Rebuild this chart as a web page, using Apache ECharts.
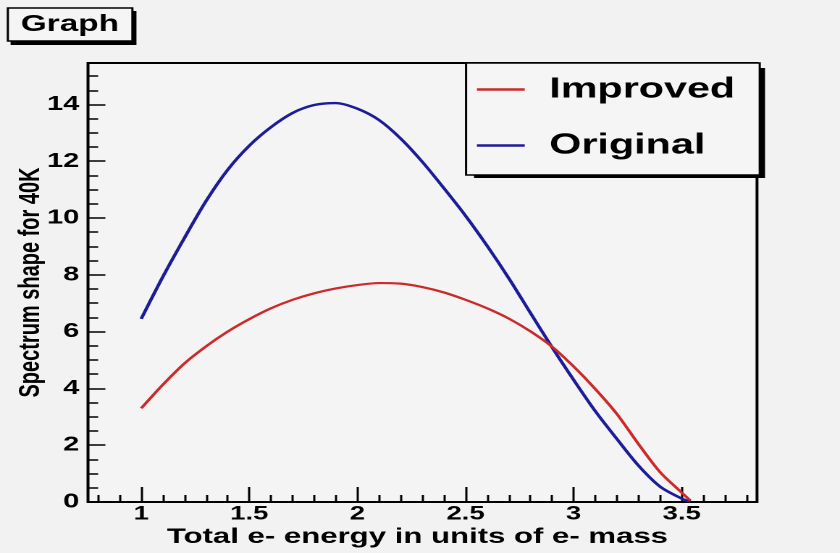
<!DOCTYPE html>
<html><head><meta charset="utf-8">
<script src="https://cdn.jsdelivr.net/npm/echarts@6/dist/echarts.min.js"></script>
<style>
html,body{margin:0;padding:0;background:#f2f2f2;overflow:hidden;}
#wrap{width:840px;height:553px;overflow:hidden;}
#chart{width:580px;height:553px;transform:scaleX(1.448276);transform-origin:0 0;}
</style></head><body><div id="wrap"><div id="chart"></div></div>
<script>
// Total e- energy (units of e- mass)
const energy   = [1.0, 1.1, 1.2, 1.3, 1.4, 1.5, 1.6, 1.7, 1.8, 1.9, 2.0, 2.1, 2.2, 2.3, 2.4, 2.5, 2.6, 2.7, 2.8, 2.9, 3.0, 3.1, 3.2, 3.3, 3.4, 3.5, 3.54];
const improved = [3.3, 4.13, 4.88, 5.48, 6.0, 6.44, 6.82, 7.12, 7.35, 7.52, 7.64, 7.71, 7.69, 7.57, 7.38, 7.12, 6.82, 6.46, 6.01, 5.47, 4.77, 3.98, 3.1, 2.04, 1.05, 0.33, 0.05];
const original = [6.45, 7.93, 9.3, 10.6, 11.7, 12.55, 13.2, 13.7, 13.98, 14.05, 13.85, 13.45, 12.8, 11.98, 11.05, 10.08, 9.02, 7.88, 6.66, 5.45, 4.3, 3.2, 2.22, 1.28, 0.54, 0.12, 0.01];
const seriesNames = ['Improved', 'Original'];
const xTickLabels = [1, 1.5, 2, 2.5, 3, 3.5];
const yTickLabels = [0, 2, 4, 6, 8, 10, 12, 14];

const X_MIN = 0.754, X_MAX = 3.848, Y_MIN = 0, Y_MAX = 15.46;
const FONT = "'Liberation Sans', Arial, sans-serif";

const xMinor = [];
for (let k = 8; k <= 38; k++) { const v = k / 10; if (xTickLabels.indexOf(v) < 0) xMinor.push(v); }
const yMinor = [];
for (let k = 1; k <= 30; k++) { const v = k / 2; if (yTickLabels.indexOf(v) < 0) yMinor.push(v); }

const chart = echarts.init(document.getElementById('chart'), null, {renderer: 'canvas', devicePixelRatio: 2});
chart.setOption({
  backgroundColor: '#f2f2f2',
  animation: false,
  graphic: [
    {type: 'rect', left: 7.3, top: 11, z: 1, shape: {width: 86.9, height: 34}, style: {fill: '#000'}},
    {type: 'rect', left: 327.3, top: 68, z: 1, shape: {width: 200.9, height: 110}, style: {fill: '#000'}}
  ],
  title: {
    text: 'Graph', left: 4.8, top: 8,
    padding: [5, 9.6, 5, 9.6],
    backgroundColor: '#f5f5f5', borderColor: '#000', borderWidth: 1.5,
    textStyle: {fontFamily: FONT, fontWeight: 'bold', fontSize: 23, color: '#000'}
  },
  legend: {
    orient: 'vertical', left: 321.8, top: 63, z: 5,
    padding: [12, 17, 15, 7.5], itemGap: 27,
    icon: 'rect', itemWidth: 33, itemHeight: 2.5,
    backgroundColor: '#f5f5f5', borderColor: '#000', borderWidth: 1.5,
    textStyle: {fontFamily: FONT, fontWeight: 'bold', fontSize: 28.5, color: '#000', padding: [0, 0, 0, 12]},
    data: seriesNames
  },
  grid: {
    left: 60.76, right: 57.31, top: 63, bottom: 51,
    show: true, backgroundColor: '#f4f4f4', borderColor: '#000', borderWidth: 2,
    containLabel: false, outerBoundsMode: 'none'
  },
  xAxis: [{
    type: 'value', min: X_MIN, max: X_MAX, position: 'bottom',
    name: 'Total e- energy in units of e- mass', nameLocation: 'middle', nameGap: 24, nameMoveOverlap: false,
    nameTextStyle: {fontFamily: FONT, fontWeight: 'bold', fontSize: 21.5, color: '#000', padding: [0, 7, 0, 0]},
    axisLine: {show: false}, splitLine: {show: false},
    axisTick: {show: true, inside: true, length: 15, customValues: xTickLabels, lineStyle: {color: '#000', width: 1.5}},
    axisLabel: {show: true, margin: 3, customValues: xTickLabels, fontFamily: FONT, fontWeight: 'bold', fontSize: 19, color: '#000'}
  }, {
    type: 'value', min: X_MIN, max: X_MAX, position: 'bottom',
    axisLine: {show: false}, splitLine: {show: false}, axisLabel: {show: false},
    axisTick: {show: true, inside: true, length: 7, customValues: xMinor, lineStyle: {color: '#000', width: 1.5}}
  }],
  yAxis: [{
    type: 'value', min: Y_MIN, max: Y_MAX, position: 'left',
    name: 'Spectrum shape for 40K', nameLocation: 'middle', nameGap: 29.5, nameMoveOverlap: false,
    nameTextStyle: {fontFamily: FONT, fontWeight: 'bold', fontSize: 20, color: '#000'},
    axisLine: {show: false}, splitLine: {show: false},
    axisTick: {show: true, inside: true, length: 12, customValues: yTickLabels, lineStyle: {color: '#000', width: 1.5}},
    axisLabel: {show: true, margin: 6, customValues: yTickLabels, fontFamily: FONT, fontWeight: 'bold', fontSize: 20, color: '#000'}
  }, {
    type: 'value', min: Y_MIN, max: Y_MAX, position: 'left',
    axisLine: {show: false}, splitLine: {show: false}, axisLabel: {show: false},
    axisTick: {show: true, inside: true, length: 7, customValues: yMinor, lineStyle: {color: '#000', width: 1.5}}
  }],
  series: [{
    name: seriesNames[0], type: 'line', xAxisIndex: 0, yAxisIndex: 0,
    data: energy.map((x, i) => [x, improved[i]]),
    showSymbol: false, symbol: 'none', smooth: 0.3, z: 3,
    lineStyle: {color: '#cc2a2a', width: 2.2}, itemStyle: {color: '#cc2a2a'}
  }, {
    name: seriesNames[1], type: 'line', xAxisIndex: 0, yAxisIndex: 0,
    data: energy.map((x, i) => [x, original[i]]),
    showSymbol: false, symbol: 'none', smooth: 0.3, z: 2,
    lineStyle: {color: '#1c1c98', width: 2.4}, itemStyle: {color: '#1c1c98'}
  }]
});
</script></body></html>
